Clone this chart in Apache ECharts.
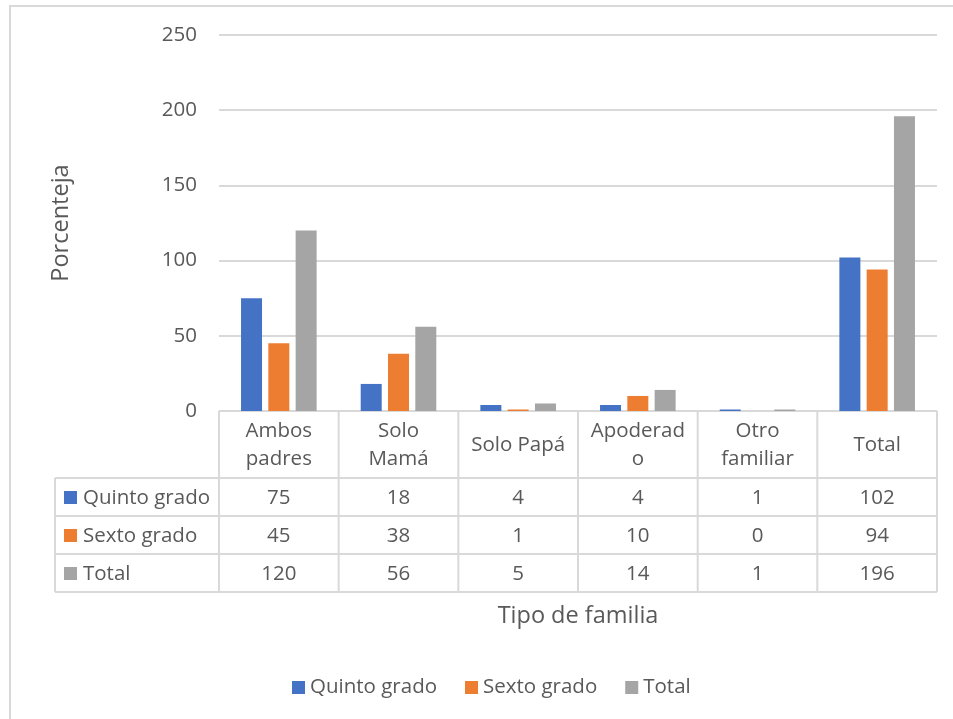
<!DOCTYPE html>
<html>
<head>
<meta charset="utf-8">
<script src="https://cdn.jsdelivr.net/npm/echarts@6/dist/echarts.min.js"></script>
<style>
  html, body { margin: 0; padding: 0; background: #fff; }
  #panel { width: 953px; height: 719px; }
</style>
</head>
<body>
<div id="panel"></div>
<script>
const categories = ['Ambos\npadres', 'Solo\nMamá', 'Solo Papá', 'Apoderad\no', 'Otro\nfamiliar', 'Total'];
const seriesNames = ['Quinto grado', 'Sexto grado', 'Total'];
const quinto = [75, 18, 4, 4, 1, 102];
const sexto = [45, 38, 1, 10, 0, 94];
const total = [120, 56, 5, 14, 1, 196];
const yTicks = [0, 50, 100, 150, 200, 250];

const COLORS = ['#4472C4', '#ED7D31', '#A5A5A5'];
const TEXT = '#595959';
const LINE = '#D9D9D9';
const FONT = '"Open Sans", sans-serif';
const FS = 20.5;

// plot area (px)
const W = 953, H = 719;
const G = { left: 219, right: 16, top: 35, bottom: 308 };
const x0 = G.left, x1 = W - G.right, y0 = H - G.bottom;
const catW = (x1 - x0) / categories.length;
// table rows: header, then one row per series
const rowY = [y0, 478, 516, 554, 592];
const tableLeft = 55;

const rows = [quinto, sexto, total];
const graphic = [];

// outer border (only top and left visible)
graphic.push({ type: 'polyline', shape: { points: [[10, H + 5], [10, 6], [W + 5, 6]] },
  style: { stroke: LINE, lineWidth: 2, fill: null } });

// horizontal table lines
graphic.push({ type: 'line', shape: { x1: x0, y1: rowY[0], x2: x1, y2: rowY[0] }, style: { stroke: LINE, lineWidth: 2 } });
for (let i = 1; i < rowY.length; i++) {
  graphic.push({ type: 'line', shape: { x1: tableLeft, y1: rowY[i], x2: x1, y2: rowY[i] }, style: { stroke: LINE, lineWidth: 2 } });
}
// vertical table lines
graphic.push({ type: 'line', shape: { x1: tableLeft, y1: rowY[1], x2: tableLeft, y2: rowY[4] }, style: { stroke: LINE, lineWidth: 2 } });
for (let c = 0; c <= categories.length; c++) {
  const x = x0 + c * catW;
  graphic.push({ type: 'line', shape: { x1: x, y1: rowY[0], x2: x, y2: rowY[4] }, style: { stroke: LINE, lineWidth: 2 } });
}
// row headers and values
rows.forEach((vals, r) => {
  const cy = (rowY[r + 1] + rowY[r + 2]) / 2 + 1;
  graphic.push({ type: 'rect', shape: { x: 64, y: cy - 7, width: 13, height: 13 }, style: { fill: COLORS[r] } });
  graphic.push({ type: 'text', x: 83, y: cy,
    style: { text: seriesNames[r], fill: TEXT, font: FS + 'px ' + FONT, verticalAlign: 'middle', align: 'left' } });
  vals.forEach((v, c) => {
    graphic.push({ type: 'text', x: x0 + (c + 0.5) * catW, y: cy,
      style: { text: String(v), fill: TEXT, font: FS + 'px ' + FONT, verticalAlign: 'middle', align: 'center' } });
  });
});

const myChart = echarts.init(document.getElementById('panel'), null, { renderer: 'canvas' });
const option = {
  backgroundColor: '#ffffff',
  animation: false,
  color: COLORS,
  textStyle: { fontFamily: FONT, color: TEXT },
  grid: { left: G.left, right: G.right, top: G.top, bottom: G.bottom, containLabel: false },
  legend: {
    data: seriesNames,
    left: 287,
    top: 672,
    icon: 'rect',
    itemWidth: 13,
    itemHeight: 13,
    itemGap: 28,
    textStyle: { color: TEXT, fontSize: FS, fontFamily: FONT },
  },
  xAxis: {
    type: 'category',
    data: categories,
    name: 'Tipo de familia',
    nameLocation: 'middle',
    nameGap: 193,
    nameTextStyle: { color: TEXT, fontSize: 23.5, fontFamily: FONT },
    axisLine: { show: false },
    axisTick: { show: false },
    axisLabel: {
      interval: 0,
      color: TEXT,
      fontSize: FS,
      fontFamily: FONT,
      lineHeight: 28,
      verticalAlign: 'middle',
      margin: 34,
    },
  },
  yAxis: {
    type: 'value',
    min: yTicks[0],
    max: yTicks[yTicks.length - 1],
    interval: 50,
    name: 'Porcenteja',
    nameLocation: 'middle',
    nameGap: 146,
    nameTextStyle: { color: TEXT, fontSize: 23.5, fontFamily: FONT },
    axisLine: { show: false },
    axisTick: { show: false },
    axisLabel: { color: TEXT, fontSize: FS, fontFamily: FONT, margin: 22 },
    splitLine: { lineStyle: { color: LINE, width: 2 } },
  },
  series: [
    { name: seriesNames[0], type: 'bar', data: quinto, barWidth: 21, barGap: '30%' },
    { name: seriesNames[1], type: 'bar', data: sexto, barWidth: 21, barGap: '30%' },
    { name: seriesNames[2], type: 'bar', data: total, barWidth: 21, barGap: '30%' },
  ],
  graphic: graphic,
};
myChart.setOption(option);
</script>
</body>
</html>
